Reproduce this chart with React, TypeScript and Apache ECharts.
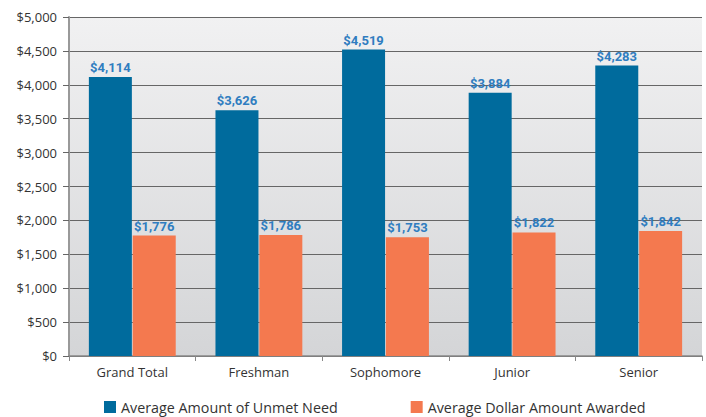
import React, { useEffect, useRef } from "react";
import * as echarts from "echarts";

const categories = ["Grand Total", "Freshman", "Sophomore", "Junior", "Senior"];
const unmetNeed = [4114, 3626, 4519, 3884, 4283];
const awarded = [1776, 1786, 1753, 1822, 1842];
const seriesNames = ["Average Amount of Unmet Need", "Average Dollar Amount Awarded"];

const fmt = (v: number) => "$" + v.toLocaleString("en-US");

export default function App() {
  const ref = useRef<HTMLDivElement>(null);
  useEffect(() => {
    if (!ref.current) return;
    const chart = echarts.init(ref.current, undefined, { renderer: "svg" });
    const labelStyle = {
      show: true,
      position: "top" as const,
      distance: 3,
      color: "#2f7dc0",
      fontWeight: "bold" as const,
      fontSize: 13,
      fontFamily: "Roboto",
      formatter: (p: any) => fmt(p.value),
    };
    chart.setOption({
      animation: false,
      backgroundColor: "#ffffff",
      grid: {
        left: 69,
        right: 4,
        top: 17,
        bottom: 61,
        show: true,
        borderWidth: 0,
        backgroundColor: new echarts.graphic.LinearGradient(0, 0, 0, 1, [
          { offset: 0, color: "#f1f1f2" },
          { offset: 1, color: "#d4d5d7" },
        ]),
      },
      legend: {
        top: 400,
        left: 104,
        padding: 0,
        itemWidth: 12,
        itemHeight: 12,
        itemGap: 73,
        itemTextGap: 9,
        icon: "rect",
        textStyle: { fontSize: 14.3, color: "#333", fontFamily: "Open Sans" },
        data: seriesNames,
      },
      xAxis: {
        type: "category",
        data: categories,
        axisLine: { lineStyle: { color: "#888", width: 1.5 } },
        axisTick: { show: true, length: 5, lineStyle: { color: "#888" } },
        axisLabel: { color: "#333", fontSize: 13, margin: 9, fontFamily: "Open Sans" },
      },
      yAxis: {
        type: "value",
        min: 0,
        max: 5000,
        interval: 500,
        axisLine: { show: true, lineStyle: { color: "#999", width: 2 } },
        axisTick: { show: true, length: 6, lineStyle: { color: "#666" } },
        splitLine: { lineStyle: { color: "#666", width: 1.2 } },
        axisLabel: {
          color: "#333",
          fontSize: 13,
          margin: 12,
          fontFamily: "Open Sans",
          formatter: (v: number) => fmt(v),
        },
      },
      series: [
        {
          name: seriesNames[0],
          type: "bar",
          data: unmetNeed,
          barWidth: 43,
          barGap: "2%",
          itemStyle: { color: "#006b9d" },
          label: labelStyle,
        },
        {
          name: seriesNames[1],
          type: "bar",
          data: awarded,
          barWidth: 43,
          barGap: "2%",
          itemStyle: { color: "#f4794f" },
          label: labelStyle,
        },
      ],
    });
    return () => chart.dispose();
  }, []);
  return <div ref={ref} style={{ width: 706, height: 417, position: "absolute", left: 0, top: 0 }} />;
}
